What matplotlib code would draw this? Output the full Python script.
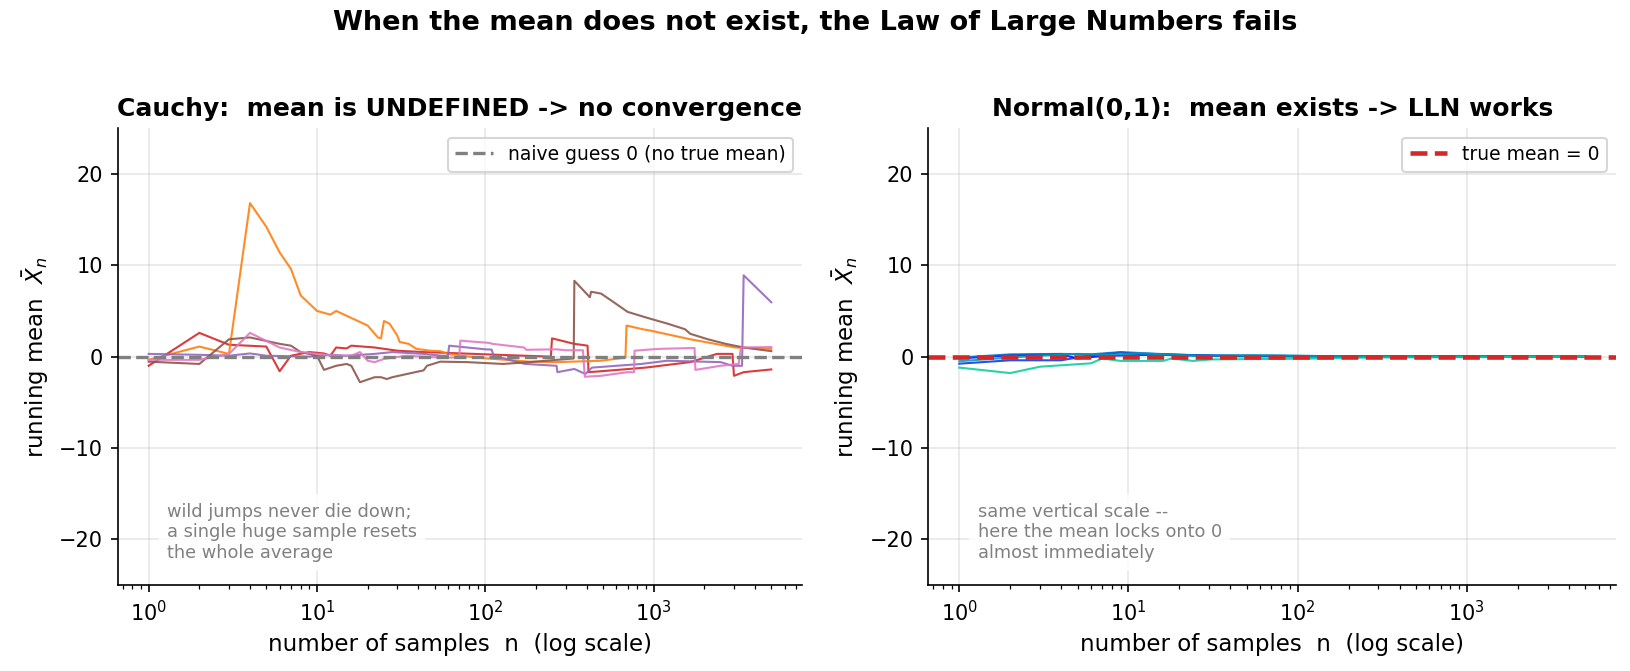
import numpy as np
import matplotlib
matplotlib.use("Agg")
import matplotlib.pyplot as plt

CAUCHY_ORANGE_N = [1, 2, 3, 4, 5, 6, 7, 8, 10, 12, 13, 20, 23, 24, 25, 27, 30, 31, 35, 39, 47, 54,
                   60, 88, 183, 265, 486, 680, 690, 860, 955, 1650, 3050, 5000]
CAUCHY_ORANGE_Y = [-0.35, 1.1, 0.3, 16.8, 14.2, 11.4, 9.6, 6.7, 5.0, 4.6, 5.0, 3.4, 2.1, 2.0, 3.9,
                   3.6, 2.3, 1.6, 1.4, 0.85, 0.65, 0.6, 0.3, -0.1, -0.55, -0.6, -0.45, -0.1, 3.4,
                   3.0, 2.85, 1.9, 1.0, 0.85]

CAUCHY_RED_N = [1, 2, 3, 5, 6, 7, 9, 11, 12, 13, 15, 16, 22, 30, 43, 61, 120, 245, 249, 337,
                405, 410, 486, 895, 1650, 2375, 2940, 3000, 3425, 5000]
CAUCHY_RED_Y = [-1.0, 2.6, 1.3, 1.1, -1.6, 0.1, 0.5, 0.35, 0.1, 1.0, 0.9, 1.2, 1.0, 0.65, 0.5,
                0.4, 0.2, 0.0, 2.0, 1.4, 1.2, -1.7, -1.6, -1.2, -0.6, 0.3, 0.3, -2.1, -1.7, -1.4]

CAUCHY_BROWN_N = [1, 2, 3, 4, 6, 7, 8, 10, 11, 13, 15, 16, 18, 22, 24, 26, 28, 43, 45, 54, 78,
                  127, 183, 335, 338, 418, 425, 487, 585, 700, 895, 1214, 1535, 1650, 2100, 2680,
                  3425, 5000]
CAUCHY_BROWN_Y = [-0.55, -0.8, 1.9, 2.1, 1.4, 1.2, 0.5, 0.1, -1.45, -1.0, -0.8, -1.0, -2.8,
                  -2.25, -2.25, -2.45, -2.25, -1.5, -1.0, -0.55, -0.6, -0.8, -0.6, -0.2, 8.3,
                  6.5, 7.1, 6.9, 5.9, 4.9, 4.3, 3.6, 3.0, 2.5, 1.9, 1.4, 1.0, 0.6]

CAUCHY_PINK_N = [1, 2, 3, 4, 6, 8, 10, 13, 16, 18, 20, 22, 25, 34, 54, 70, 71, 106, 110, 170,
                 175, 265, 300, 380, 390, 486, 700, 765, 770, 1070, 1750, 1770, 2500, 3200, 3300,
                 5000]
CAUCHY_PINK_Y = [-0.35, -0.35, 0.3, 2.6, 1.0, 0.5, 0.3, 0.1, 0.1, 0.5, -0.45, -0.6, -0.25, 0.1,
                 -0.1, -0.1, 1.75, 1.5, 1.4, 1.0, 0.75, 0.8, 0.7, 0.7, -2.2, -2.1, -1.7, -1.7,
                 0.65, 0.85, 0.95, -1.45, -1.0, -0.8, 1.0, 1.05]

CAUCHY_PURPLE_N = [1, 2, 3, 4, 5, 9, 12, 15, 22, 28, 43, 55, 60, 61, 100, 109, 112, 172, 265,
                   268, 338, 393, 430, 845, 1200, 2500, 2940, 3350, 3425, 5000]
CAUCHY_PURPLE_Y = [0.3, 0.2, 0.1, 0.35, 0.1, 0.0, 0.2, 0.1, 0.3, 0.5, 0.3, 0.1, 0.1, 1.2, 0.8,
                   0.77, 0.1, -0.8, -1.0, -1.7, -1.35, -1.9, -1.2, -0.8, -0.45, -0.6, -1.0, -1.0,
                   8.9, 5.95]

CAUCHY_RUNS = [
    (CAUCHY_RED_N, CAUCHY_RED_Y, "tab:red"),
    (CAUCHY_ORANGE_N, CAUCHY_ORANGE_Y, "tab:orange"),
    (CAUCHY_PURPLE_N, CAUCHY_PURPLE_Y, "tab:purple"),
    (CAUCHY_BROWN_N, CAUCHY_BROWN_Y, "tab:brown"),
    (CAUCHY_PINK_N, CAUCHY_PINK_Y, "tab:pink"),
]

# running means of the Normal(0,1) runs
NORMAL_A_N = [1, 2, 4, 5, 7, 10, 16, 40, 100, 5000]
NORMAL_A_Y = [-0.2, 0.15, 0.25, -0.2, 0.07, 0.15, 0.25, 0.05, 0.02, 0.0]
NORMAL_B_N = [1, 2, 4, 6, 9, 12, 20, 50, 200, 5000]
NORMAL_B_Y = [-0.77, -0.4, -0.4, 0.15, 0.45, 0.25, 0.15, 0.1, 0.03, 0.0]
NORMAL_C_N = [1, 2, 4, 6, 9, 15, 30, 80, 300, 5000]
NORMAL_C_Y = [-0.1, 0.25, 0.3, 0.25, 0.5, 0.3, 0.1, 0.1, 0.02, 0.0]
NORMAL_D_N = [1, 2, 3, 5, 8, 12, 25, 60, 150, 5000]
NORMAL_D_Y = [-0.5, -0.1, 0.1, 0.3, 0.2, 0.35, 0.1, 0.15, 0.05, 0.0]
NORMAL_E_N = [1, 2, 3, 6, 7, 9, 16, 18, 24, 31, 80, 140, 255, 5000]
NORMAL_E_Y = [-1.2, -1.8, -1.1, -0.73, -0.2, -0.47, -0.47, -0.2, -0.47, -0.3, -0.25, -0.2,
              -0.1, 0.0]

NORMAL_RUNS = [
    (NORMAL_A_N, NORMAL_A_Y),
    (NORMAL_B_N, NORMAL_B_Y),
    (NORMAL_C_N, NORMAL_C_Y),
    (NORMAL_D_N, NORMAL_D_Y),
    (NORMAL_E_N, NORMAL_E_Y),
]

N_MAX = 5000


def style_axes(ax):
    ax.set_xscale("log")
    ax.set_xlim(10 ** -0.185, N_MAX * 10 ** 0.185)
    ax.set_ylim(-25, 25)
    ax.spines["top"].set_visible(False)
    ax.spines["right"].set_visible(False)
    ax.grid(True, alpha=0.3)
    ax.set_xlabel("number of samples  n  (log scale)", fontsize=11)
    ax.set_ylabel(r"running mean  $\bar{X}_n$", fontsize=11)


def main():
    figure = plt.figure(figsize=(1630 / 150, 671 / 150), dpi=150)
    axes_left = figure.add_axes([0.0721, 0.128, 0.4202, 0.681])
    axes_right = figure.add_axes([0.5693, 0.128, 0.4224, 0.681])

    for ns, ys, color in CAUCHY_RUNS:
        axes_left.plot(ns, ys, color=color, lw=1.0, alpha=0.9)
    axes_left.axhline(0, color="gray", ls="--", lw=1.6, label="naive guess 0 (no true mean)")
    style_axes(axes_left)
    axes_left.set_title("Cauchy:  mean is UNDEFINED -> no convergence",
                        fontsize=12, fontweight="bold")
    axes_left.legend(loc="upper right", fontsize=9)
    axes_left.text(0.072, 0.05, "wild jumps never die down;\na single huge sample resets\n"
                   "the whole average", transform=axes_left.transAxes, fontsize=8.5,
                   color="gray", va="bottom", ha="left",
                   bbox=dict(facecolor="white", edgecolor="none", alpha=0.85))

    colors = plt.cm.winter(np.linspace(0, 0.8, len(NORMAL_RUNS)))
    for (ns, ys), color in zip(NORMAL_RUNS, colors):
        axes_right.plot(ns, ys, color=color, lw=1.0, alpha=0.85)
    axes_right.axhline(0, color="tab:red", ls="--", lw=2.2, label="true mean = 0")
    style_axes(axes_right)
    axes_right.set_title("Normal(0,1):  mean exists -> LLN works",
                         fontsize=12, fontweight="bold")
    axes_right.legend(loc="upper right", fontsize=9)
    axes_right.text(0.072, 0.05, "same vertical scale --\nhere the mean locks onto 0\n"
                    "almost immediately", transform=axes_right.transAxes, fontsize=8.5,
                    color="gray", va="bottom", ha="left",
                    bbox=dict(facecolor="white", edgecolor="none", alpha=0.85))

    figure.suptitle("When the mean does not exist, the Law of Large Numbers fails",
                    fontsize=13, fontweight="bold", y=0.985)
    figure.savefig("out.png", dpi=150)
    plt.close(figure)


if __name__ == "__main__":
    main()
